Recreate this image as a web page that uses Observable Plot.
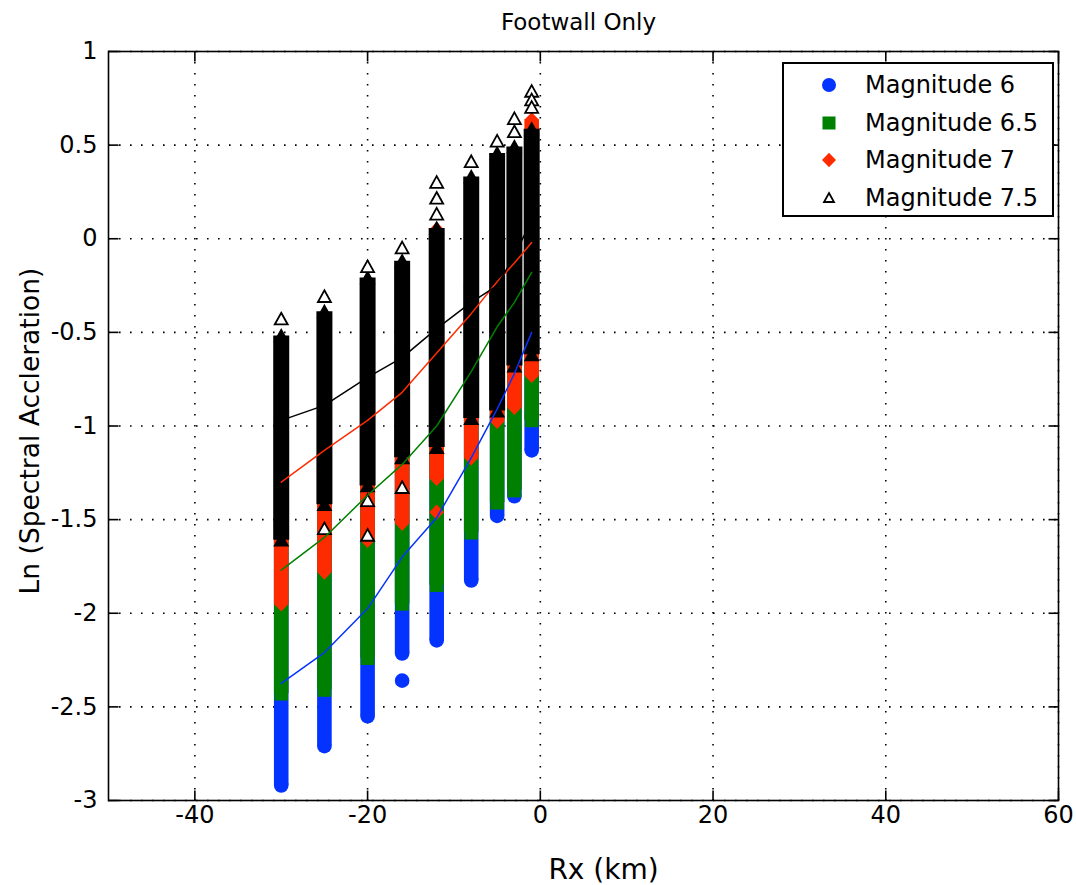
<!DOCTYPE html>
<html>
<head>
<meta charset="utf-8">
<script src="https://cdn.jsdelivr.net/npm/d3@7"></script>
<script src="https://cdn.jsdelivr.net/npm/@observablehq/plot@0.6"></script>
<style>
  body { margin: 0; background: #fff; }
  #chart { position: relative; width: 1076px; height: 885px; }
  #legend {
    position: absolute; left: 782px; top: 62px; width: 268px; height: 151px;
    border: 2px solid #000; background: #fff; box-sizing: content-box;
    font-family: "DejaVu Sans", sans-serif; font-size: 24px; color: #000;
  }
  #legend .row { position: absolute; left: 0; height: 30px; display: flex; align-items: center; }
  #legend svg { width: 90px; height: 30px; }
  #legend span { margin-left: -9px; white-space: nowrap; }
</style>
</head>
<body>
<div id="chart"><div id="legend"></div></div>
<script>
// Rx positions of the footwall sites (km)
const rx = [-30, -25, -20, -16, -12, -8, -5, -3, -1];

const magnitudes = ["Magnitude 6", "Magnitude 6.5", "Magnitude 7", "Magnitude 7.5"];
const colors = ["#0433ff", "#008000", "#ff2b00", "#000000"];

// Range of ln(Sa) covered by each magnitude's continuous run of points
const lowM6   = [-2.92, -2.71, -2.55, -2.215, -2.145, -1.825, -1.48, -1.375, -1.13];
const highM6  = [-0.95, -0.80, -0.70, -0.55, -0.40, -0.25, -0.10, 0.00, 0.10];
const lowM65  = [-2.43, -2.41, -2.24, -1.95, -1.85, -1.57, -1.41, -1.345, -0.97];
const highM65 = [-0.80, -0.60, -0.45, -0.30, -0.10, 0.10, 0.23, 0.35, 0.50];
const lowM7   = [-1.95, -1.78, -1.61, -1.52, -1.28, -1.17, -0.975, -0.90, -0.73];
const highM7  = [-0.60, -0.42, -0.30, -0.15, 0.05, 0.30, 0.38, 0.47, 0.635];
const lowM75  = [-1.61, -1.42, -1.32, -1.17, -1.115, -0.96, -0.92, -0.68, -0.62];
const highM75 = [-0.52, -0.39, -0.21, -0.12, 0.055, 0.33, 0.455, 0.49, 0.585];

// Isolated points outside the continuous runs
const outRxM6  = [-16];
const outM6    = [-2.36];
const outRxM65 = [];
const outM65   = [];
const outRxM7  = [-12];
const outM7    = [-1.46];
const outRxM75 = [-30, -25, -20, -16, -12, -12, -12, -8, -5, -3, -3, -1, -1, -1, -25, -20, -20, -16];
const outM75   = [-0.43, -0.31, -0.15, -0.05, 0.30, 0.215, 0.13, 0.41, 0.52, 0.64, 0.57, 0.786, 0.74, 0.70, -1.55, -1.40, -1.585, -1.33];

// Mean curve of each magnitude
const meanM6  = [-2.375, -2.21, -1.975, -1.70, -1.49, -1.17, -0.91, -0.72, -0.50];
const meanM65 = [-1.77, -1.595, -1.37, -1.205, -1.00, -0.71, -0.47, -0.34, -0.18];
const meanM7  = [-1.30, -1.13, -0.97, -0.82, -0.61, -0.40, -0.23, -0.13, -0.02];
const meanM75 = [-0.97, -0.89, -0.74, -0.635, -0.48, -0.34, -0.25, -0.09, 0.10];

const xTicks = [-40, -20, 0, 20, 40, 60];
const yTicks = [-3, -2.5, -2, -1.5, -1, -0.5, 0, 0.5, 1];

// Marker shapes (size is the area of the equivalent circle)
const rad = (size) => Math.sqrt(size / Math.PI);
const squareSym = { draw(c, s) { const r = rad(s) * 0.93; c.rect(-r, -r, 2 * r, 2 * r); } };
const diamondSym = { draw(c, s) { const r = rad(s); c.moveTo(0, -r * 1.05); c.lineTo(r, 0); c.lineTo(0, r * 1.05); c.lineTo(-r, 0); c.closePath(); } };
const triangleSym = { draw(c, s) { const r = rad(s); c.moveTo(0, -r); c.lineTo(r, r * 0.8); c.lineTo(-r, r * 0.8); c.closePath(); } };
const circleSym = { draw(c, s) { const r = rad(s); c.moveTo(r, 0); c.arc(0, 0, r, 0, 2 * Math.PI); } };
const symbols = [circleSym, squareSym, diamondSym, triangleSym];

// Inward tick marks on the four sides of the box
const tickUp    = { draw(c) { c.moveTo(0, 0); c.lineTo(0, -10); } };
const tickDown  = { draw(c) { c.moveTo(0, 0); c.lineTo(0, 10); } };
const tickRight = { draw(c) { c.moveTo(0, 0); c.lineTo(10, 0); } };
const tickLeft  = { draw(c) { c.moveTo(0, 0); c.lineTo(-10, 0); } };

const lows = [lowM6, lowM65, lowM7, lowM75];
const highs = [highM6, highM65, highM7, highM75];
const means = [meanM6, meanM65, meanM7, meanM75];
const outRx = [outRxM6, outRxM65, outRxM7, outRxM75];
const outV = [outM6, outM65, outM7, outM75];

const series = magnitudes.map((name, k) => ({
  name, color: colors[k], symbol: symbols[k],
  rows: rx.map((x, i) => ({ rx: x, low: lows[k][i], high: highs[k][i], mean: means[k][i] })),
  outliers: outRx[k].map((x, i) => ({ rx: x, v: outV[k][i] }))
}));

const marks = [
  Plot.gridX(xTicks, { stroke: "#000", strokeOpacity: 1, strokeWidth: 1.6, strokeDasharray: "1.6,9.4" }),
  Plot.gridY(yTicks, { stroke: "#000", strokeOpacity: 1, strokeWidth: 1.6, strokeDasharray: "1.6,9.4" })
];

series.forEach((s, k) => {
  const top = k === 3;
  const w = top ? 16 : 14.6;
  const rr = top ? 8 : 7.3;
  marks.push(
    Plot.ruleX(s.rows, { x: "rx", y1: "low", y2: "high", stroke: s.color, strokeWidth: w }),
    Plot.dot(s.rows, { x: "rx", y: "low", symbol: s.symbol, r: rr, fill: s.color, stroke: "none" }),
    Plot.dot(s.rows, { x: "rx", y: "high", symbol: s.symbol, r: rr, fill: s.color, stroke: "none" }),
    top
      ? Plot.dot(s.outliers, { x: "rx", y: "v", symbol: s.symbol, r: 6.5, fill: "#fff", stroke: "#000", strokeWidth: 1.8 })
      : Plot.dot(s.outliers, { x: "rx", y: "v", symbol: s.symbol, r: rr, fill: s.color, stroke: "none" })
  );
});

series.forEach((s) => {
  marks.push(Plot.line(s.rows, { x: "rx", y: "mean", stroke: s.color, strokeWidth: 1.5 }));
});

marks.push(
  Plot.frame({ stroke: "#000", strokeWidth: 1.6 }),
  Plot.dot(xTicks, { x: (d) => d, frameAnchor: "bottom", symbol: tickUp, stroke: "#000", strokeWidth: 1.6 }),
  Plot.dot(xTicks, { x: (d) => d, frameAnchor: "top", symbol: tickDown, stroke: "#000", strokeWidth: 1.6 }),
  Plot.dot(yTicks, { y: (d) => d, frameAnchor: "left", symbol: tickRight, stroke: "#000", strokeWidth: 1.6 }),
  Plot.dot(yTicks, { y: (d) => d, frameAnchor: "right", symbol: tickLeft, stroke: "#000", strokeWidth: 1.6 }),
  Plot.axisX(xTicks, { anchor: "bottom", tickSize: 0, tickPadding: 5, label: null, fontSize: 24, tickFormat: (d) => String(d) }),
  Plot.axisY(yTicks, { anchor: "left", tickSize: 0, tickPadding: 11, label: null, fontSize: 24, tickFormat: (d) => String(d) }),
  Plot.text(["Footwall Only"], { frameAnchor: "top", lineAnchor: "middle", textAnchor: "middle", dy: -29, dx: -5, fontSize: 23, text: (d) => d }),
  Plot.text(["Rx (km)"], { frameAnchor: "bottom", lineAnchor: "middle", textAnchor: "middle", dy: 70, dx: 20, fontSize: 28, text: (d) => d }),
  Plot.text(["Ln (Spectral Accleration)"], { frameAnchor: "left", textAnchor: "middle", lineAnchor: "middle", rotate: -90, dx: -78, dy: 5, fontSize: 26.5, text: (d) => d })
);

const chart = Plot.plot({
  width: 1076,
  height: 885,
  marginLeft: 108,
  marginRight: 18,
  marginTop: 51,
  marginBottom: 85,
  style: { fontFamily: "DejaVu Sans, sans-serif", fontSize: "24px", color: "#000", background: "#fff" },
  x: { domain: [-50, 60] },
  y: { domain: [-3, 1] },
  marks
});
const holder = document.getElementById("chart");
holder.insertBefore(chart, holder.firstChild);

// Legend box
const legend = d3.select("#legend");
magnitudes.forEach((name, k) => {
  const row = legend.append("div").attr("class", "row").style("top", `${6 + k * 37.5}px`);
  const svg = row.append("svg");
  const size = k === 3 ? Math.PI * 5 * 5 : Math.PI * 7 * 7;
  svg.append("path")
    .attr("transform", "translate(45,15)")
    .attr("d", d3.symbol().type(symbols[k]).size(size)())
    .attr("fill", k === 3 ? "#fff" : colors[k])
    .attr("stroke", k === 3 ? "#000" : "none")
    .attr("stroke-width", 1.8);
  row.append("span").text(name);
});
</script>
</body>
</html>
